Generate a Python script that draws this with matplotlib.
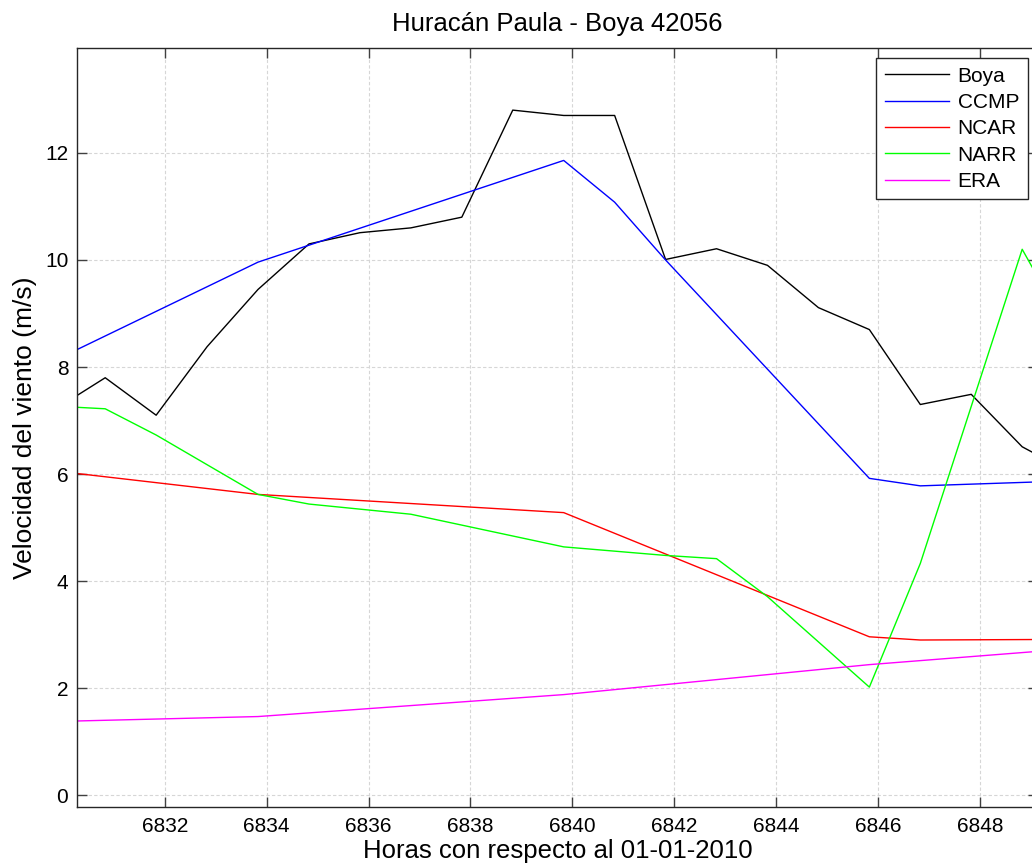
import matplotlib
matplotlib.use('Agg')
import matplotlib.pyplot as plt

plt.rcParams['font.family'] = ['Liberation Sans', 'DejaVu Sans']

# horas desde 01-01-2010 (cada serie con sus propios vertices)
t_boya = [6829.83, 6830.83, 6831.83, 6832.83, 6833.83, 6834.83, 6835.83,
          6836.83, 6837.83, 6838.83, 6839.83, 6840.83, 6841.83, 6842.83,
          6843.83, 6844.83, 6845.83, 6846.83, 6847.83, 6848.83, 6849.83]
boya = [7.20, 7.80, 7.10, 8.38, 9.45, 10.30, 10.51, 10.60, 10.80, 12.80,
        12.70, 12.70, 10.01, 10.21, 9.90, 9.11, 8.70, 7.30, 7.49, 6.51, 6.00]

t_ccmp = [6827.83, 6833.83, 6839.83, 6840.83, 6841.83, 6845.83, 6846.83, 6851.83]
ccmp = [7.20, 9.96, 11.86, 11.08, 10.00, 5.92, 5.78, 5.94]

t_ncar = [6827.83, 6833.83, 6839.83, 6845.83, 6846.83, 6851.83]
ncar = [6.28, 5.62, 5.28, 2.96, 2.90, 2.92]

t_narr = [6829.83, 6830.83, 6831.83, 6833.83, 6834.83, 6836.83, 6839.83,
          6840.83, 6841.83, 6842.83, 6843.83, 6845.83, 6846.83, 6848.83, 6849.83]
narr = [7.27, 7.22, 6.73, 5.62, 5.44, 5.25, 4.64, 4.56, 4.48, 4.42, 3.71,
        2.02, 4.33, 10.20, 8.50]

t_era = [6827.83, 6833.83, 6839.83, 6845.83, 6851.83]
era = [1.33, 1.47, 1.88, 2.44, 2.89]

fig = plt.figure(figsize=(10.32, 8.67), dpi=100)
ax = fig.add_axes([0.0743, 0.0692, 0.9315, 0.8754])

lw = 1.0
ax.plot(t_boya, boya, color='k', lw=lw, label='Boya')
ax.plot(t_ccmp, ccmp, color='#0000ff', lw=lw, label='CCMP')
ax.plot(t_ncar, ncar, color='#ff0000', lw=lw, label='NCAR')
ax.plot(t_narr, narr, color='#00ff00', lw=lw, label='NARR')
ax.plot(t_era, era, color='#ff00ff', lw=lw, label='ERA')

ax.set_xlim(6830.27, 6849.14)
ax.set_ylim(-0.22, 13.96)
ax.set_xticks(range(6832, 6849, 2))
ax.set_yticks(range(0, 13, 2))

ax.grid(True, color='#d6d6d6', linestyle=(0, (3, 2)), lw=0.8)
ax.tick_params(direction='in', length=7, width=1, color='#404040',
               labelsize=15, top=True, right=True)
ax.tick_params(axis='x', pad=7)
ax.tick_params(axis='y', pad=6)
for s in ax.spines.values():
    s.set_color('#262626')
    s.set_linewidth(1)

ax.set_title('Huracán Paula - Boya 42056', fontsize=18.5, pad=12)
ax.set_xlabel('Horas con respecto al 01-01-2010', fontsize=18.5, labelpad=2)
ax.set_ylabel('Velocidad del viento (m/s)', fontsize=19, labelpad=6)

leg = ax.legend(loc='upper right', fontsize=15, handlelength=3.1,
                handletextpad=0.4, labelspacing=0.35, borderaxespad=0.5,
                fancybox=False, framealpha=1, edgecolor='#262626',
                borderpad=0.4)
leg.get_frame().set_linewidth(1)

fig.savefig('out.png', dpi=100)
